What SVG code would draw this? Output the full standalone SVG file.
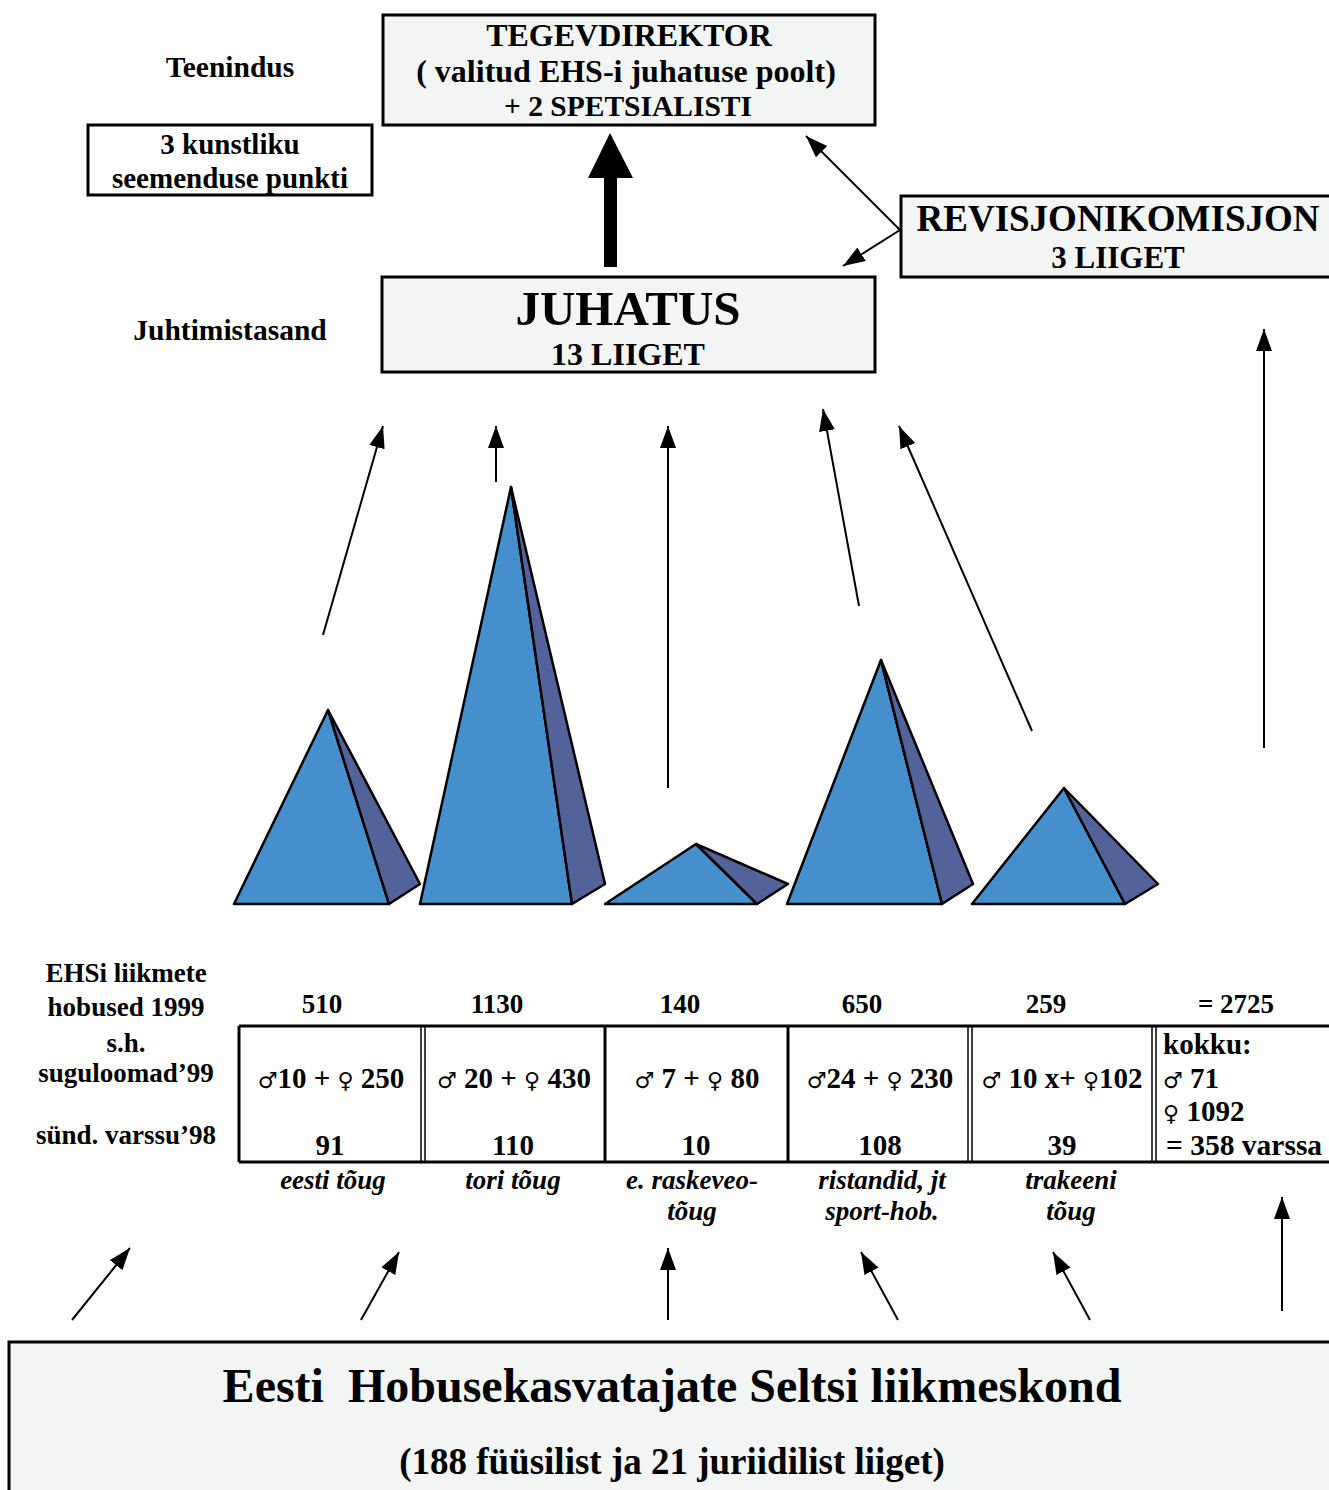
<svg xmlns="http://www.w3.org/2000/svg" width="1329" height="1490" viewBox="0 0 1329 1490">
<style>
text{font-family:"Liberation Serif","Times New Roman",serif;font-weight:bold;fill:#000;text-anchor:middle}
.box{fill:#f3f5f4;stroke:#000;stroke-width:3}
.wbox{fill:#fff;stroke:#000;stroke-width:3}
.con{stroke:#000;stroke-width:2;fill:none}
.front{fill:#4590cc;stroke:#000;stroke-width:2.5;stroke-linejoin:round}
.side{fill:#536399;stroke:#000;stroke-width:2.5;stroke-linejoin:round}
.sym{font-family:"DejaVu Sans",sans-serif;font-weight:normal;font-size:22px}
.it{font-style:italic}
.tl{stroke:#000;stroke-width:3}
.tl1{stroke:#000;stroke-width:1.5}
.st{text-anchor:start}
</style>
<defs>
<marker id="ah" markerUnits="userSpaceOnUse" markerWidth="24" markerHeight="18" refX="22" refY="8" orient="auto">
<path d="M0,0 L22,8 L0,16 Z" fill="#000"/>
</marker>
</defs>
<rect width="1329" height="1490" fill="#fff"/>

<g id="teenindus"><text x="230" y="77" font-size="29.5">Teenindus</text></g>
<g id="kunstliku">
<rect class="wbox" x="88" y="125" width="284" height="70"/>
<text x="230" y="154" font-size="29">3 kunstliku</text>
<text x="230" y="188" font-size="29">seemenduse punkti</text>
</g>
<g id="tegevdirektor">
<rect class="box" x="383" y="15" width="492" height="110"/>
<text x="629" y="46" font-size="32">TEGEVDIREKTOR</text>
<text x="626" y="82" font-size="32">( valitud EHS-i juhatuse poolt)</text>
<text x="628" y="116" font-size="29.5">+ 2 SPETSIALISTI</text>
</g>
<g id="revisjon">
<rect class="box" x="901" y="196" width="440" height="81"/>
<text x="1118" y="231" font-size="37">REVISJONIKOMISJON</text>
<text x="1118" y="268" font-size="31">3 LIIGET</text>
</g>
<g id="juhtimistasand"><text x="230" y="340" font-size="29.5">Juhtimistasand</text></g>
<g id="juhatus">
<rect class="box" x="382" y="277" width="493" height="95"/>
<text x="628" y="325" font-size="49">JUHATUS</text>
<text x="628" y="365" font-size="32">13 LIIGET</text>
</g>

<g id="pyramids">
<polygon class="front" points="328,710 234,904 389,904"/>
<polygon class="side" points="328,710 389,904 420,884"/>
<polygon class="front" points="511,487 420,904 572,904"/>
<polygon class="side" points="511,487 572,904 605,884"/>
<polygon class="front" points="696,844 605,904 757,904"/>
<polygon class="side" points="696,844 757,904 788,884"/>
<polygon class="front" points="881,660 787,904 942,904"/>
<polygon class="side" points="881,660 942,904 973,884"/>
<polygon class="front" points="1064,788 972,904 1125,904"/>
<polygon class="side" points="1064,788 1125,904 1158,884"/>
</g>

<g id="connectors">
<rect x="604" y="177" width="13" height="90" fill="#000"/>
<polygon points="588,178 633,178 610,133" fill="#000"/>
<line class="con" x1="900" y1="230" x2="806" y2="136" marker-end="url(#ah)"/>
<line class="con" x1="900" y1="230" x2="843" y2="266" marker-end="url(#ah)"/>
<line class="con" x1="323" y1="635" x2="383" y2="426" marker-end="url(#ah)"/>
<line class="con" x1="496" y1="482" x2="496" y2="426" marker-end="url(#ah)"/>
<line class="con" x1="668" y1="788" x2="668" y2="426" marker-end="url(#ah)"/>
<line class="con" x1="859" y1="606" x2="823" y2="409" marker-end="url(#ah)"/>
<line class="con" x1="1032" y1="731" x2="899" y2="426" marker-end="url(#ah)"/>
<line class="con" x1="1264" y1="748" x2="1264" y2="329" marker-end="url(#ah)"/>
<line class="con" x1="72" y1="1320" x2="130" y2="1248" marker-end="url(#ah)"/>
<line class="con" x1="361" y1="1320" x2="399" y2="1252" marker-end="url(#ah)"/>
<line class="con" x1="668" y1="1320" x2="668" y2="1248" marker-end="url(#ah)"/>
<line class="con" x1="898" y1="1320" x2="861" y2="1252" marker-end="url(#ah)"/>
<line class="con" x1="1090" y1="1320" x2="1053" y2="1252" marker-end="url(#ah)"/>
<line class="con" x1="1282" y1="1311" x2="1282" y2="1197" marker-end="url(#ah)"/>
</g>

<g id="row-labels">
<text x="126" y="982" font-size="27">EHSi liikmete</text>
<text x="126" y="1016" font-size="27">hobused 1999</text>
<text x="126" y="1052" font-size="27">s.h.</text>
<text x="126" y="1082" font-size="27">suguloomad’99</text>
<text x="126" y="1144" font-size="27">sünd. varssu’98</text>
</g>

<g id="table">
<line class="tl" x1="239" y1="1026" x2="1329" y2="1026"/>
<line class="tl" x1="239" y1="1162" x2="1329" y2="1162"/>
<line class="tl" x1="239" y1="1026" x2="239" y2="1162"/>
<line class="tl1" x1="421" y1="1026" x2="421" y2="1162"/>
<line class="tl1" x1="425" y1="1026" x2="425" y2="1162"/>
<line class="tl" x1="605" y1="1026" x2="605" y2="1162"/>
<line class="tl" x1="788" y1="1026" x2="788" y2="1162"/>
<line class="tl1" x1="968" y1="1026" x2="968" y2="1162"/>
<line class="tl1" x1="972" y1="1026" x2="972" y2="1162"/>
<line class="tl1" x1="1152" y1="1026" x2="1152" y2="1162"/>
<line class="tl1" x1="1156" y1="1026" x2="1156" y2="1162"/>

<text x="322" y="1013" font-size="27">510</text>
<text x="497" y="1013" font-size="27">1130</text>
<text x="680" y="1013" font-size="27">140</text>
<text x="862" y="1013" font-size="27">650</text>
<text x="1046" y="1013" font-size="27">259</text>
<text x="1236" y="1013" font-size="27">= 2725</text>

<text x="331" y="1088" font-size="29"><tspan class="sym">♂</tspan>10 + <tspan class="sym">♀</tspan> 250</text>
<text x="514" y="1088" font-size="29"><tspan class="sym">♂</tspan> 20 + <tspan class="sym">♀</tspan> 430</text>
<text x="697" y="1088" font-size="29"><tspan class="sym">♂</tspan> 7 + <tspan class="sym">♀</tspan> 80</text>
<text x="880" y="1088" font-size="29"><tspan class="sym">♂</tspan>24 + <tspan class="sym">♀</tspan> 230</text>
<text x="1062" y="1088" font-size="29"><tspan class="sym">♂</tspan> 10 x+ <tspan class="sym">♀</tspan>102</text>

<text x="330" y="1155" font-size="29">91</text>
<text x="513" y="1155" font-size="29">110</text>
<text x="696" y="1155" font-size="29">10</text>
<text x="880" y="1155" font-size="29">108</text>
<text x="1062" y="1155" font-size="29">39</text>

<text class="st" x="1163" y="1054" font-size="29">kokku:</text>
<text class="st" x="1163" y="1088" font-size="29"><tspan class="sym">♂</tspan> 71</text>
<text class="st" x="1163" y="1121" font-size="29"><tspan class="sym">♀</tspan> 1092</text>
<text class="st" x="1166" y="1155" font-size="29.5">= 358 varssa</text>
</g>

<g id="breeds">
<text class="it" x="333" y="1189" font-size="27">eesti tõug</text>
<text class="it" x="513" y="1189" font-size="27">tori tõug</text>
<text class="it" x="692" y="1189" font-size="27">e. raskeveo-</text>
<text class="it" x="692" y="1220" font-size="27">tõug</text>
<text class="it" x="882" y="1189" font-size="27">ristandid, jt</text>
<text class="it" x="882" y="1220" font-size="27">sport-hob.</text>
<text class="it" x="1071" y="1189" font-size="27">trakeeni</text>
<text class="it" x="1071" y="1220" font-size="27">tõug</text>
</g>

<g id="liikmeskond">
<rect class="box" x="9" y="1342" width="1340" height="160"/>
<text x="672" y="1402" font-size="48" xml:space="preserve">Eesti  Hobusekasvatajate Seltsi liikmeskond</text>
<text x="672" y="1474" font-size="37">(188 füüsilist ja 21 juriidilist liiget)</text>
</g>
</svg>
